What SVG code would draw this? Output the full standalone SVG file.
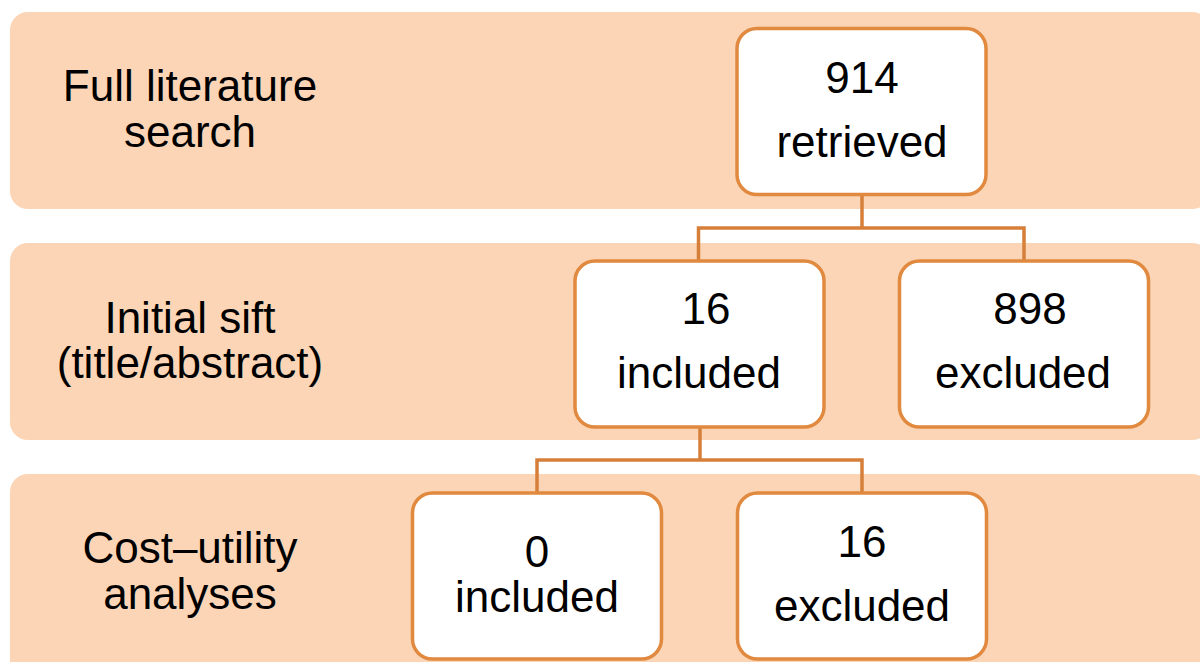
<svg xmlns="http://www.w3.org/2000/svg" width="1200" height="662" viewBox="0 0 1200 662">
<style>
.band{fill:#FBD5B5}
.node{fill:#FFFFFF;stroke:#E0893F;stroke-width:3.5}
.conn{fill:none;stroke:#D67F3A;stroke-width:3.5}
text{font-family:"Liberation Sans",Arial,sans-serif;font-size:44px;fill:#000;text-anchor:middle}
</style>
<rect width="1200" height="662" fill="#FFFFFF"/>
<g id="band-search">
<rect class="band" x="10" y="12" width="1200" height="197" rx="18"/>
<text x="190" y="101">Full literature</text>
<text x="190" y="147">search</text>
</g>
<g id="band-sift">
<rect class="band" x="10" y="243" width="1200" height="197" rx="18"/>
<text x="190" y="333">Initial sift</text>
<text x="190" y="378">(title/abstract)</text>
</g>
<g id="band-cua">
<rect class="band" x="10" y="474" width="1200" height="210" rx="18"/>
<text x="190" y="563">Cost–utility</text>
<text x="190" y="609">analyses</text>
</g>
<g id="connectors">
<path class="conn" d="M862 195 V228 M698.5 261 V228 H1024 V261"/>
<path class="conn" d="M700 427 V460 M537 493 V460 H862 V493"/>
</g>
<g id="node-retrieved">
<rect class="node" x="737" y="28.5" width="249" height="166" rx="20"/>
<text x="862" y="93">914</text>
<text x="862" y="157">retrieved</text>
</g>
<g id="node-sift-included">
<rect class="node" x="575" y="261" width="249" height="166" rx="20"/>
<text x="706" y="324">16</text>
<text x="699" y="388">included</text>
</g>
<g id="node-sift-excluded">
<rect class="node" x="899.5" y="261" width="249" height="166" rx="20"/>
<text x="1030" y="324">898</text>
<text x="1023" y="388">excluded</text>
</g>
<g id="node-cua-included">
<rect class="node" x="412.5" y="493" width="249" height="166" rx="20"/>
<text x="537" y="567">0</text>
<text x="537" y="612">included</text>
</g>
<g id="node-cua-excluded">
<rect class="node" x="737.5" y="493" width="249" height="166" rx="20"/>
<text x="862" y="557">16</text>
<text x="862" y="621">excluded</text>
</g>
</svg>
